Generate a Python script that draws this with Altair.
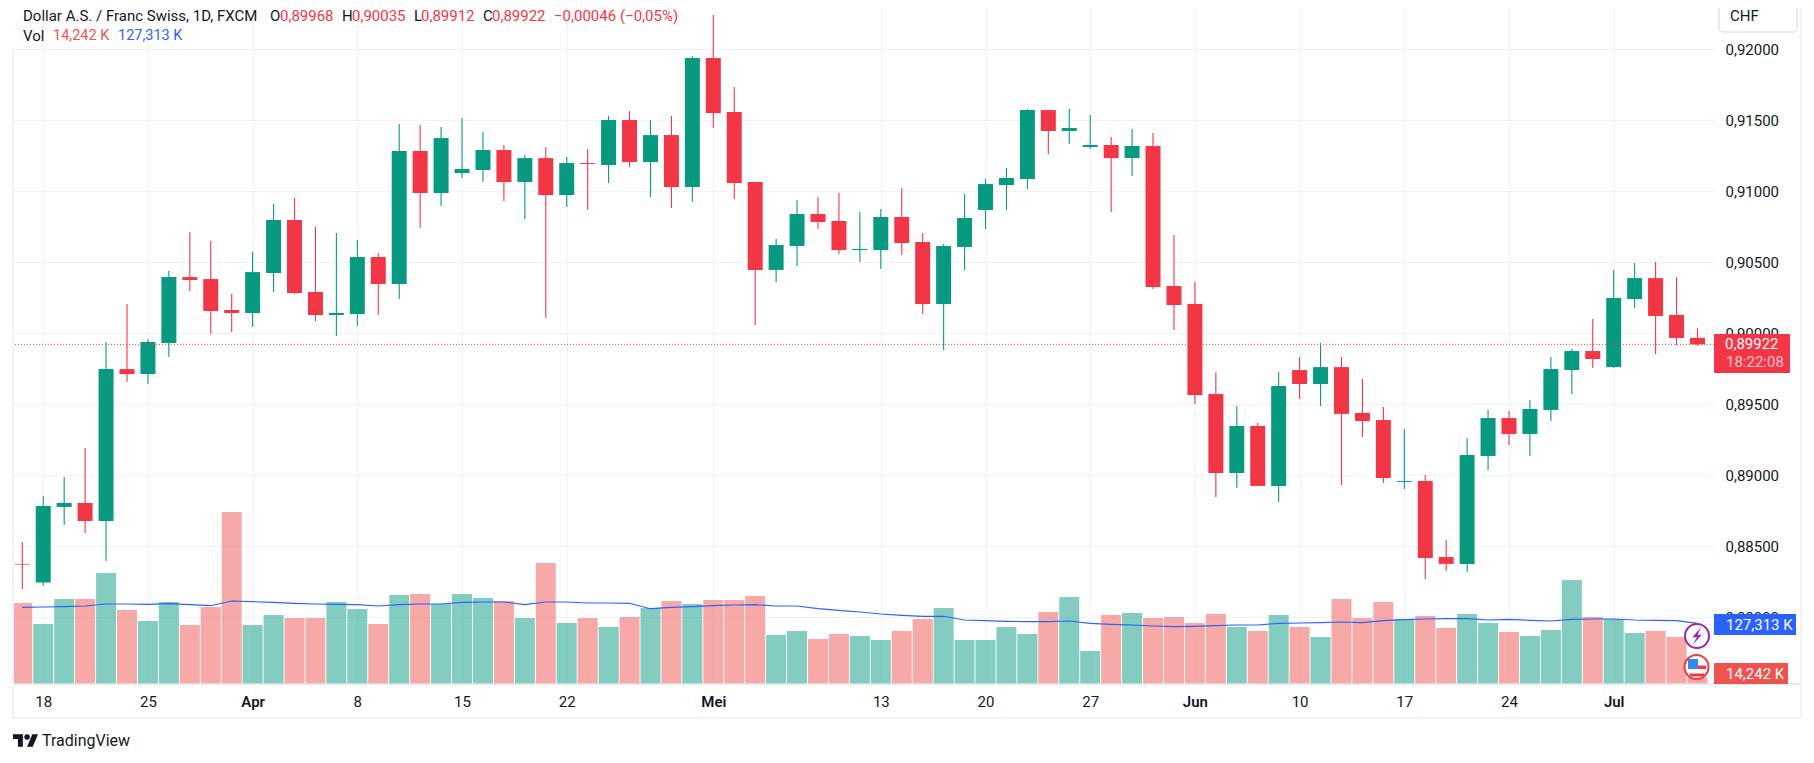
import altair as alt
import pandas as pd

# Prices in units of 0.00001, one row per trading day from 15 Mar to 5 Jul 2024
open_ = [88376,88244,88777,88805,88678,89748,89713,89931,90396,90382,90164,90143,90424,90798,90291,90129,90136,90537,90347,91284,
         90988,91129,91150,91291,91065,91234,90974,91199,91185,91502,91206,91396,91030,91939,91558,91065,90446,90615,90840,90791,
         90586,90586,90819,90643,90206,90608,90868,91044,91086,91572,91425,91312,91326,91234,91319,90333,90206,89572,89016,89347,
         88925,89741,89643,89762,89439,89389,88953,88960,88424,88376,89136,89403,89291,89460,89741,89875,89762,90241,90389,90129,89968]
high = [88530,88854,88988,89192,89939,90206,89960,90439,90713,90650,90277,90572,90910,90953,90748,90706,90657,90565,91474,91467,
        91453,91516,91417,91326,91255,91312,91241,91298,91530,91565,91502,91530,91953,92241,91734,91065,90664,90939,90960,90988,
        90854,90875,91023,90706,90629,90981,91086,91164,91579,91572,91579,91537,91382,91439,91410,90692,90361,89725,89488,89368,
        89727,89833,89931,89833,89678,89481,89326,89002,88544,89262,89460,89453,89530,89833,89889,90100,90446,90495,90502,90396,90035]
low = [88199,88223,88650,88594,88396,89657,89643,89833,90298,89995,90009,90044,90291,90277,90086,89981,90051,90129,90241,90741,
       90896,91094,91065,90932,90805,90108,90889,90868,91058,91171,90960,90882,90925,91446,90946,90058,90361,90474,90734,90558,
       90502,90453,90551,90136,89882,90446,90734,90868,91016,91263,91333,91298,90854,91108,90312,90023,89502,88847,88910,88925,
       88812,89537,89488,88932,89270,88946,88903,88270,88326,88319,89037,89213,89136,89382,89572,89755,89755,90178,89854,89917,89912]
close = [88371,88784,88805,88678,89748,89713,89939,90396,90375,90157,90143,90431,90798,90284,90129,90143,90537,90347,91284,90988,
         91375,91157,91291,91065,91234,90974,91199,91192,91502,91206,91396,91030,91939,91551,91058,90446,90622,90840,90784,90586,
         90594,90819,90636,90206,90615,90812,91051,91094,91572,91425,91446,91326,91234,91319,90326,90199,89565,89016,89347,88925,
         89629,89643,89762,89432,89382,88981,88960,88417,88376,89143,89403,89291,89467,89748,89875,89819,90248,90389,90122,89967,89922]
volume_k = [170.1,126,178.5,178.5,233.1,155.4,132.3,172.2,123.9,161.7,361.2,123.9,144.9,138.6,138.6,172.2,157.5,126,186.9,189,
            168,189,180.6,174.3,138.6,254.1,128.1,138.6,119.7,140.7,159.6,174.3,168,176.4,176.4,184.8,102.9,111.3,94.5,105,
            100.8,92.4,111.3,136.5,159.6,92.4,92.4,119.7,105,151.2,182.7,69.3,144.9,149.1,138.6,140.7,128.1,147,119.7,111.3,
            144.9,119.7,98.7,178.5,138.6,172.2,136.5,142.8,117.6,147,128.1,109.2,100.8,113.4,218.4,140.7,136.5,107.1,111.3,98.7,14.242]
volume_ma_k = [161,161.7,162.4,163.8,168,168,167.3,168.7,166.6,164.5,174.3,172.9,171.5,169.4,168,167.3,166.6,163.8,166.6,168,
               168,171.5,172.2,172.2,166.6,172.2,172.2,170.1,170.1,169.4,158.2,161,162.4,164.5,165.9,166.6,163.8,163.8,158.2,154.7,
               151.2,147,144.2,142.1,142.1,134.4,133,131.6,130.9,130.9,132.3,127.4,125.3,123.9,121.8,120.4,121.1,122.5,123.9,123.9,
               127.4,128.1,128.8,130.2,128.8,133,135.1,136.5,137.2,137.2,134.4,135.8,133.7,132.3,135.8,136.5,136.5,134.4,133.7,133,127.313]
tick_index = [1, 6, 11, 16, 21, 26, 33, 41, 46, 51, 56, 61, 66, 71, 76]
tick_labels = ["18", "25", "Apr", "8", "15", "22", "Mei", "13", "20", "27", "Jun", "10", "17", "24", "Jul"]
month_ticks = [11, 33, 56, 76]
price_ticks = [0.88, 0.885, 0.89, 0.895, 0.90, 0.905, 0.91, 0.915, 0.92]
last_price = 0.89922

GREEN, RED, VRED, BLUE, INK = "#089981", "#F23645", "#EF5350", "#2962FF", "#131722"
GRID, EDGE = "#F0F3FA", "#E0E3EB"
FONT = "Roboto"
PL, PT, W, H = 13, 8, 1701, 676  # plot area on the page


def X(v): return alt.value(v - PL)
def Y(v): return alt.value(v - PT)


df = pd.DataFrame({"i": range(len(close)),
                   "open": [v / 1e5 for v in open_], "high": [v / 1e5 for v in high],
                   "low": [v / 1e5 for v in low], "close": [v / 1e5 for v in close],
                   "vol": volume_k, "ma": volume_ma_k})
df["candle"] = [GREEN if c >= o else RED for o, c in zip(open_, close)]
df["bar"] = [GREEN if c >= o else VRED for o, c in zip(open_, close)]
one = pd.DataFrame({"a": [0]})

x_scale = alt.Scale(domain=[-0.444, 80.79], nice=False, zero=False, padding=0)
p_scale = alt.Scale(domain=[0.8753, 0.92291], nice=False, zero=False)
v_scale = alt.Scale(domain=[0, 1419.6], nice=False, zero=True)

labels_js = "[" + ",".join(f"'{t}'" for t in tick_labels) + "]"
x_axis = alt.Axis(values=tick_index, title=None, domain=False, ticks=False, tickSize=0, labelPadding=10,
                  labelFont=FONT, labelFontSize=15, labelColor=INK, labelOverlap=False, labelFlush=False,
                  labelAngle=0, gridColor=GRID, gridWidth=1,
                  labelExpr=f"{labels_js}[indexof({tick_index},datum.value)]",
                  labelFontWeight=alt.expr(f"indexof({month_ticks},datum.value)>=0?600:400"))
y_axis = alt.Axis(orient="right", values=price_ticks, title=None, domain=False, ticks=False, tickSize=0,
                  labelPadding=11, labelFont=FONT, labelFontSize=15, labelColor=INK, gridColor=GRID, gridWidth=1,
                  labelExpr="replace(format(datum.value,'.5f'),'.',',')")
xe = alt.X("i:Q", scale=x_scale, axis=x_axis)
base = alt.Chart(df)

wicks = base.mark_rule(strokeWidth=1.1).encode(
    x=xe, y=alt.Y("low:Q", scale=p_scale, axis=y_axis), y2="high:Q", color=alt.Color("candle:N", scale=None))
vol = base.mark_bar(width=20, opacity=0.5).encode(
    x=xe, y=alt.Y("vol:Q", scale=v_scale, axis=None), y2=alt.Y2(datum=0), color=alt.Color("bar:N", scale=None))
bodies = base.mark_bar(width=15).encode(
    x=xe, y=alt.Y("open:Q", scale=p_scale, axis=None), y2="close:Q", color=alt.Color("candle:N", scale=None))
ma = base.mark_line(color=BLUE, strokeWidth=1.1).encode(
    x=xe, y=alt.Y("ma:Q", scale=v_scale, axis=None))
last = alt.Chart(pd.DataFrame({"p": [last_price]})).mark_rule(color=RED, strokeWidth=1, strokeDash=[1, 2]).encode(
    y=alt.Y("p:Q", scale=p_scale, axis=None))


def line(x1, y1, x2, y2, color, width):
    return alt.Chart(one).mark_rule(color=color, strokeWidth=width).encode(x=X(x1), x2=X(x2), y=Y(y1), y2=Y(y2))


def box(x1, y1, x2, y2, fill, **kw):
    return alt.Chart(one).mark_rect(fill=fill, **kw).encode(x=X(x1), x2=X(x2), y=Y(y1), y2=Y(y2))


def txt(s, x, y, color=INK, size=15, **kw):
    return alt.Chart(one).mark_text(text=s, align="left", baseline="middle", font=FONT, fontSize=size,
                                    color=color, **kw).encode(x=X(x), y=Y(y))


def glyph(x, y, size, **kw):
    return alt.Chart(one).mark_point(**kw).encode(x=X(x), y=Y(y), size=alt.value(size))


frame = [line(13, 49, 13, 718, GRID, 2), line(13, 684, 1801, 684, EDGE, 1.5),
         line(13, 718, 1801, 718, GRID, 2), line(1801, 8, 1801, 718, GRID, 2)]
header = [txt("Dollar A.S. / Franc Swiss, 1D, FXCM", 23, 16),
          txt("O", 270, 16), txt("0,89968", 280, 16, RED), txt("H", 342, 16), txt("0,90035", 352, 16, RED),
          txt("L", 414, 16), txt("0,89912", 421, 16, RED), txt("C", 483, 16), txt("0,89922", 492, 16, RED),
          txt("\u22120,00046", 554, 16, RED), txt("(\u22120,05%)", 620, 16, RED),
          txt("Vol", 23, 36), txt("14,242 K", 53, 36, VRED, 14.5), txt("127,313 K", 118, 36, BLUE, 14.5)]
chf = [box(1719, 0, 1797, 32, "#FFFFFF", stroke=EDGE, strokeWidth=1.5, cornerRadius=4),
       txt("CHF", 1730, 16)]
price_tags = [box(1714, 334, 1790, 373, RED), txt("0,89922", 1725, 344, "#FFFFFF"),
              txt("18:22:08", 1726, 362, "#FFFFFF", opacity=0.7),
              box(1714, 614, 1796, 635, BLUE), txt("127,313 K", 1726, 624.5, "#FFFFFF"),
              box(1714, 663, 1788, 684, VRED), txt("14,242 K", 1726, 673.5, "#FFFFFF")]
BOLT = "M3 -6.5L-3.5 1L0 1L-3 6.5L3.5 -1L0.5 -1Z"
icons = [glyph(1697, 636, 576, shape="circle", filled=True, fill="#FFFFFF", stroke="#9C27B0", strokeWidth=2, opacity=1),
         glyph(1697, 636, 7, shape=BOLT, filled=True, fill="#9C27B0", stroke="#9C27B0", strokeWidth=0.1, opacity=1),
         glyph(1696.5, 667, 576, shape="circle", filled=True, fill="#FFFFFF", stroke=RED, strokeWidth=2, opacity=1),
         box(1689, 665.5, 1706, 669, RED), box(1690, 673.5, 1704, 676.5, RED),
         box(1688, 659, 1698, 669, "#2F8CF0")]
TV_LOGO = ("M-3.75 9H-10.75V-2H-17.75V-9H-3.75ZM10.25 9H2.25L9.75 -9H17.75Z"
           "M-1.75 -5a4 4 0 1 0 8 0a4 4 0 1 0 -8 0Z")
brand = [glyph(25.5, 740.5, 1.98, shape=TV_LOGO, filled=True, fill=INK, stroke=INK, strokeWidth=0.1, opacity=1),
         txt("TradingView", 42, 741, INK, 16)]

chart = alt.layer(wicks, vol, bodies, ma, last, *frame, *header, *chf, *price_tags, *icons, *brand).resolve_scale(
    y="independent", x="shared").properties(
    width=W, height=H,
    padding={"left": PL - 8, "top": PT - 8, "right": 1806 - PL - W, "bottom": 751 - PT - H},
    autosize=alt.AutoSizeParams(type="none"),
    background="#FFFFFF").configure_view(stroke=None)

chart.save("out.html", embed_options={"renderer": "svg", "actions": False})
